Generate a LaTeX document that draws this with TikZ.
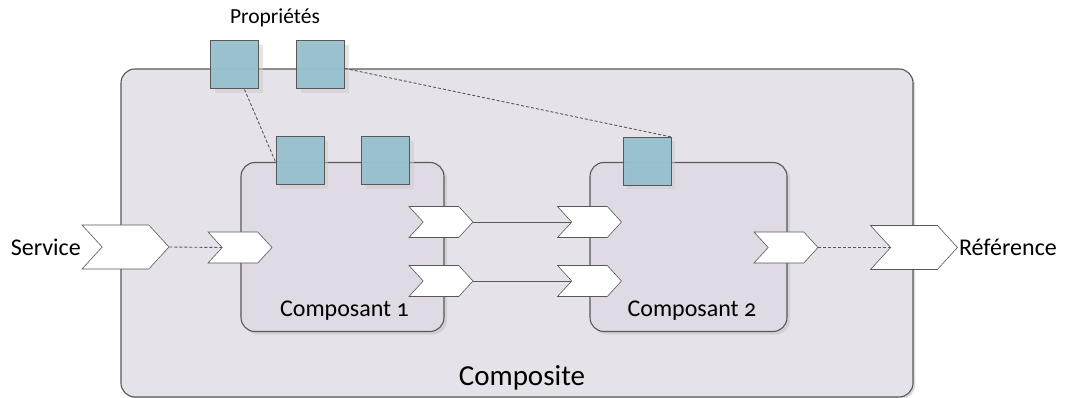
\documentclass[tikz,border=0pt]{standalone}
\usepackage{fontspec}
\setmainfont[Numbers=OldStyle]{Carlito}
\usetikzlibrary{shapes.symbols,shadows}

\definecolor{compositefill}{RGB}{230,226,234}
\definecolor{composantfill}{RGB}{224,218,229}
\definecolor{propfill}{RGB}{150,192,206}
\definecolor{bordergray}{RGB}{88,88,88}

\tikzset{
  composite/.style={draw=bordergray, line width=1.1pt, fill=compositefill,
    rounded corners=14pt, drop shadow={shadow xshift=2pt, shadow yshift=-2pt, fill=black!30}},
  composant/.style={draw=bordergray, line width=1.1pt, fill=composantfill,
    rounded corners=14pt, drop shadow={shadow xshift=3pt, shadow yshift=-3pt, fill=black!25}},
  propbox/.style={draw=bordergray, line width=1pt, fill=propfill, fill opacity=0.95,
    minimum width=48pt, minimum height=48pt, inner sep=0pt,
    drop shadow={shadow xshift=4pt, shadow yshift=-4pt, fill=black!20}},
  chevron/.style={shape=signal, signal to=east, signal from=west, signal pointer angle=95,
    draw=bordergray, line width=0.6pt, fill=white, inner sep=0pt},
  bigchevron/.style={chevron, minimum width=87pt, minimum height=44pt},
  smallchevron/.style={chevron, minimum width=64pt, minimum height=31pt},
  wire/.style={draw=bordergray, line width=0.9pt},
  dashwire/.style={wire, dash pattern=on 3pt off 2pt},
  label/.style={inner sep=1pt, font=\fontsize{24}{26}\selectfont}
}

\begin{document}
\begin{tikzpicture}[x=1pt, y=-1pt]
				\useasboundingbox (0, 0) rectangle (1077, 398);
				% Boxes:
				\node[composite, minimum width=792pt, minimum height=328pt] (comp) at (517, 233){};
				\node[composant, minimum width=203pt, minimum height=169pt] (c1) at (342.5, 247){};
				\node[composant, minimum width=197pt, minimum height=169pt] (c2) at (688.5, 247){};
				\node[label, font=\fontsize{29}{31}\selectfont] (complabel) at (522, 378){Composite};
				\node[label] (c1label) at (344.5, 311){Composant 1};
				\node[label] (c2label) at (692, 311){Composant 2};
				% Properties:
				\node[label, font=\fontsize{21.5}{23}\selectfont] (proplabel) at (275, 18){Propriétés};
				\node[propbox] (p1) at (234.5, 65){};
				\node[propbox] (p2) at (320.5, 65){};
				\node[propbox] (c1p1) at (300, 161){};
				\node[propbox] (c1p2) at (385.5, 161){};
				\node[propbox] (c2p1) at (647, 161.5){};
				% Services and references:
				\node[bigchevron] (service) at (125.5, 247){};
				\node[bigchevron] (ref) at (914, 247.5){};
				\node[smallchevron] (c1in) at (240, 247.5){};
				\node[smallchevron] (c1out1) at (441, 222){};
				\node[smallchevron] (c1out2) at (441, 281){};
				\node[smallchevron] (c2in1) at (589.5, 222){};
				\node[smallchevron] (c2in2) at (589.5, 281){};
				\node[smallchevron] (c2out) at (786, 247.5){};
				\node[label, anchor=east] (servicelabel) at (82, 247){Service};
				\node[label, anchor=west] (reflabel) at (ref.east){Référence};
				% Wires:
				\draw[dashwire] (service.east) -- (c1in.west);
				\draw[wire] (c1out1.east) -- (c2in1.west);
				\draw[wire] (c1out2.east) -- (c2in2.west);
				\draw[dashwire] (c2out.east) -- (ref.west);
				\draw[dashwire] ([xshift=10pt]p1.south) -- (c1p1.west |- c1.north);
				\draw[dashwire] (p2.east |- comp.north) -- (c2p1.north east);
			\end{tikzpicture}
\end{document}
